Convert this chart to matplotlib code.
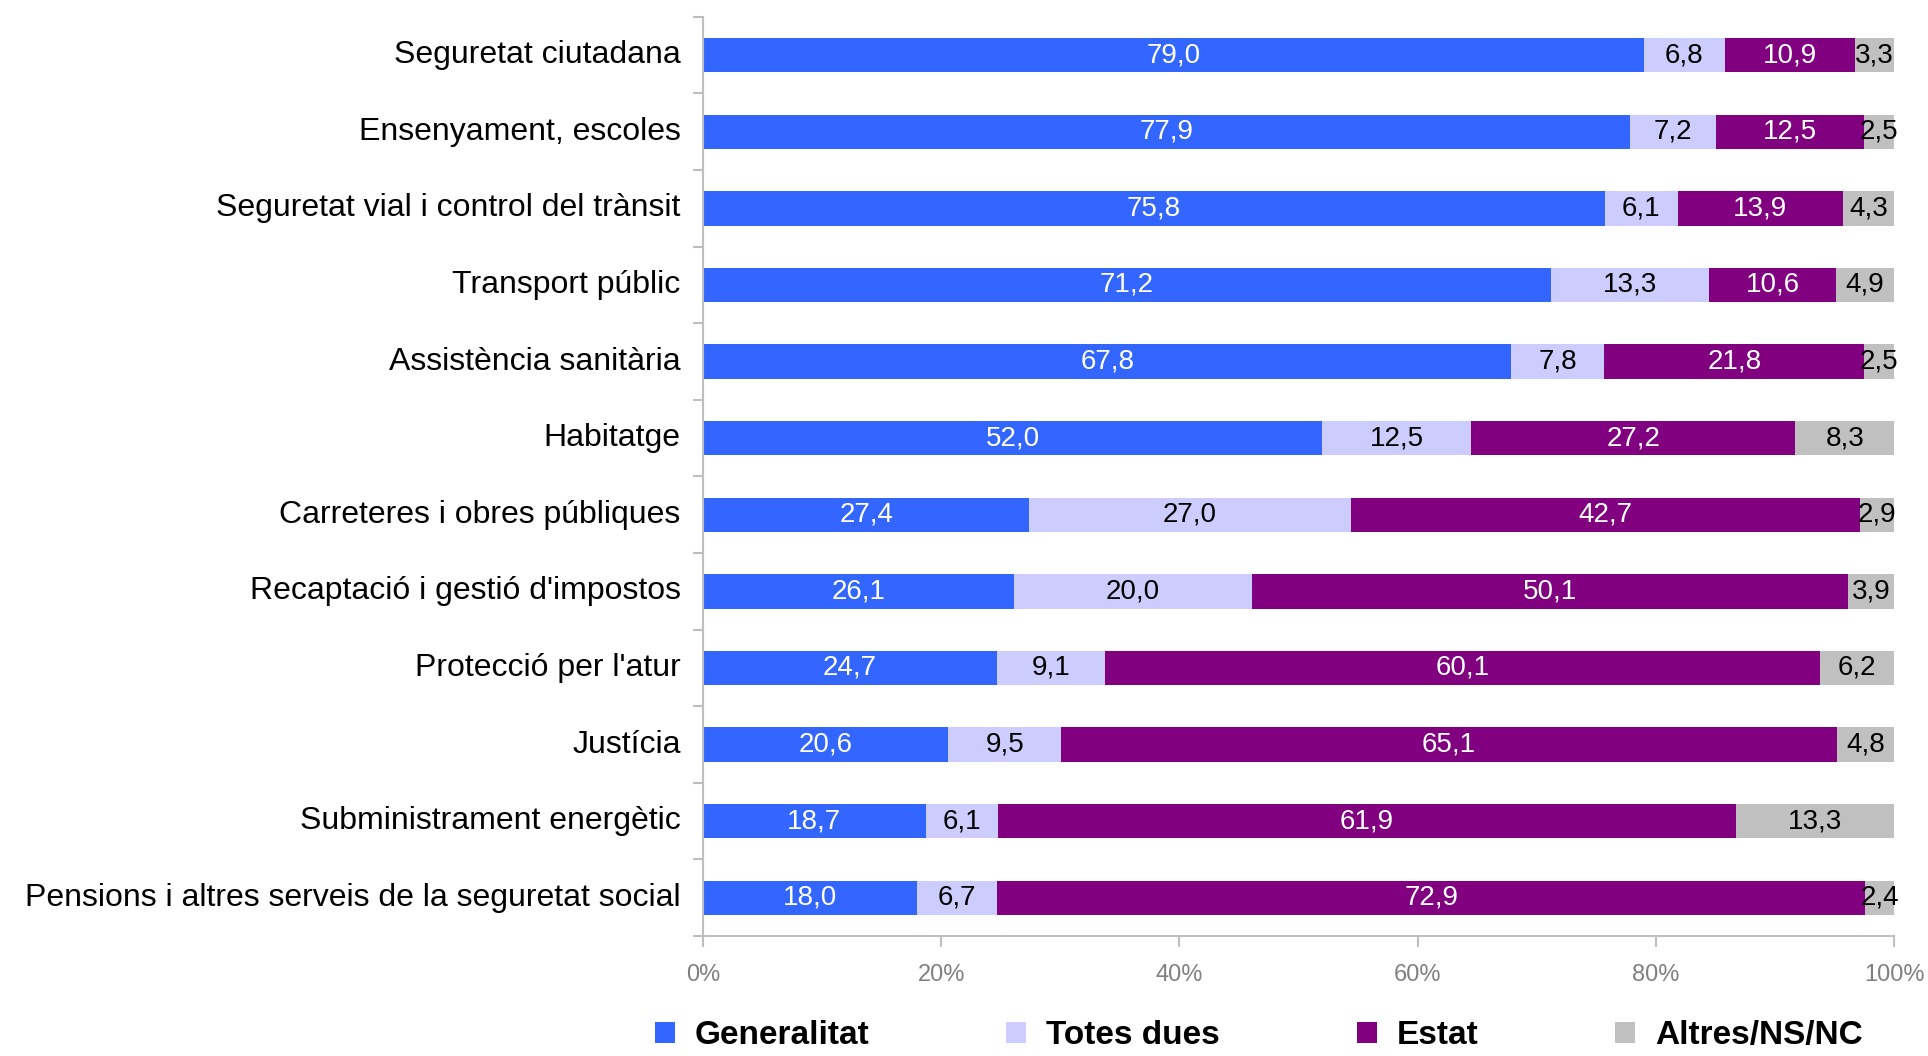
import matplotlib.pyplot as plt
import numpy as np
from matplotlib.ticker import FixedLocator

plt.rcParams['font.family'] = ['Liberation Sans', 'DejaVu Sans']

# data
categories = ["Seguretat ciutadana", "Ensenyament, escoles", "Seguretat vial i control del trànsit",
              "Transport públic", "Assistència sanitària", "Habitatge", "Carreteres i obres públiques",
              "Recaptació i gestió d'impostos", "Protecció per l'atur", "Justícia",
              "Subministrament energètic", "Pensions i altres serveis de la seguretat social"]
generalitat = [79.0, 77.9, 75.8, 71.2, 67.8, 52.0, 27.4, 26.1, 24.7, 20.6, 18.7, 18.0]
totes_dues = [6.8, 7.2, 6.1, 13.3, 7.8, 12.5, 27.0, 20.0, 9.1, 9.5, 6.1, 6.7]
estat = [10.9, 12.5, 13.9, 10.6, 21.8, 27.2, 42.7, 50.1, 60.1, 65.1, 61.9, 72.9]
altres = [3.3, 2.5, 4.3, 4.9, 2.5, 8.3, 2.9, 3.9, 6.2, 4.8, 13.3, 2.4]

series = [("Generalitat", generalitat, "#3366FF", "white"),
          ("Totes dues", totes_dues, "#CCCCFF", "black"),
          ("Estat", estat, "#800080", "white"),
          ("Altres/NS/NC", altres, "#C0C0C0", "black")]

vals = np.array([s[1] for s in series])
pct = vals / vals.sum(axis=0) * 100

fig = plt.figure(figsize=(19.28, 10.56), dpi=100)
ax = fig.add_axes([0.3646, 0.1136, 0.6178, 0.8704])

y = np.arange(len(categories))
left = np.zeros(len(categories))
for i, (name, raw, col, tcol) in enumerate(series):
    ax.barh(y, pct[i], left=left, height=0.45, color=col, label=name)
    for j in range(len(categories)):
        ax.text(left[j] + pct[i][j] / 2, y[j], f"{raw[j]:.1f}".replace(".", ","),
                ha="center", va="center", color=tcol, fontsize=20)
    left += pct[i]

ax.set_ylim(len(categories) - 0.5, -0.5)
ax.set_xlim(0, 100)
ax.set_yticks(y)
ax.set_yticklabels(categories, fontsize=23, va="center")
ax.tick_params(axis="y", which="major", length=0, pad=16)
ax.yaxis.set_minor_locator(FixedLocator(np.arange(-0.5, len(categories), 1)))
ax.tick_params(axis="y", which="minor", length=7, color="#BFBFBF", width=1.5)

ax.set_xticks(np.arange(0, 101, 20))
ax.set_xticklabels([f"{v}%" for v in range(0, 101, 20)], fontsize=17, color="#808080")
ax.tick_params(axis="x", length=8, color="#BFBFBF", width=1.5, pad=12)

for s in ["top", "right"]:
    ax.spines[s].set_visible(False)
ax.spines["left"].set_color("#BFBFBF")
ax.spines["bottom"].set_color("#BFBFBF")
ax.spines["left"].set_linewidth(1.5)
ax.spines["bottom"].set_linewidth(1.5)

leg = fig.legend(loc="lower center", bbox_to_anchor=(0.653, -0.024), ncol=4, frameon=False,
                 prop={"weight": "bold", "size": 24}, handlelength=0.6, handleheight=0.6,
                 columnspacing=4.1, handletextpad=0.6)

fig.savefig("out.png", dpi=100)
